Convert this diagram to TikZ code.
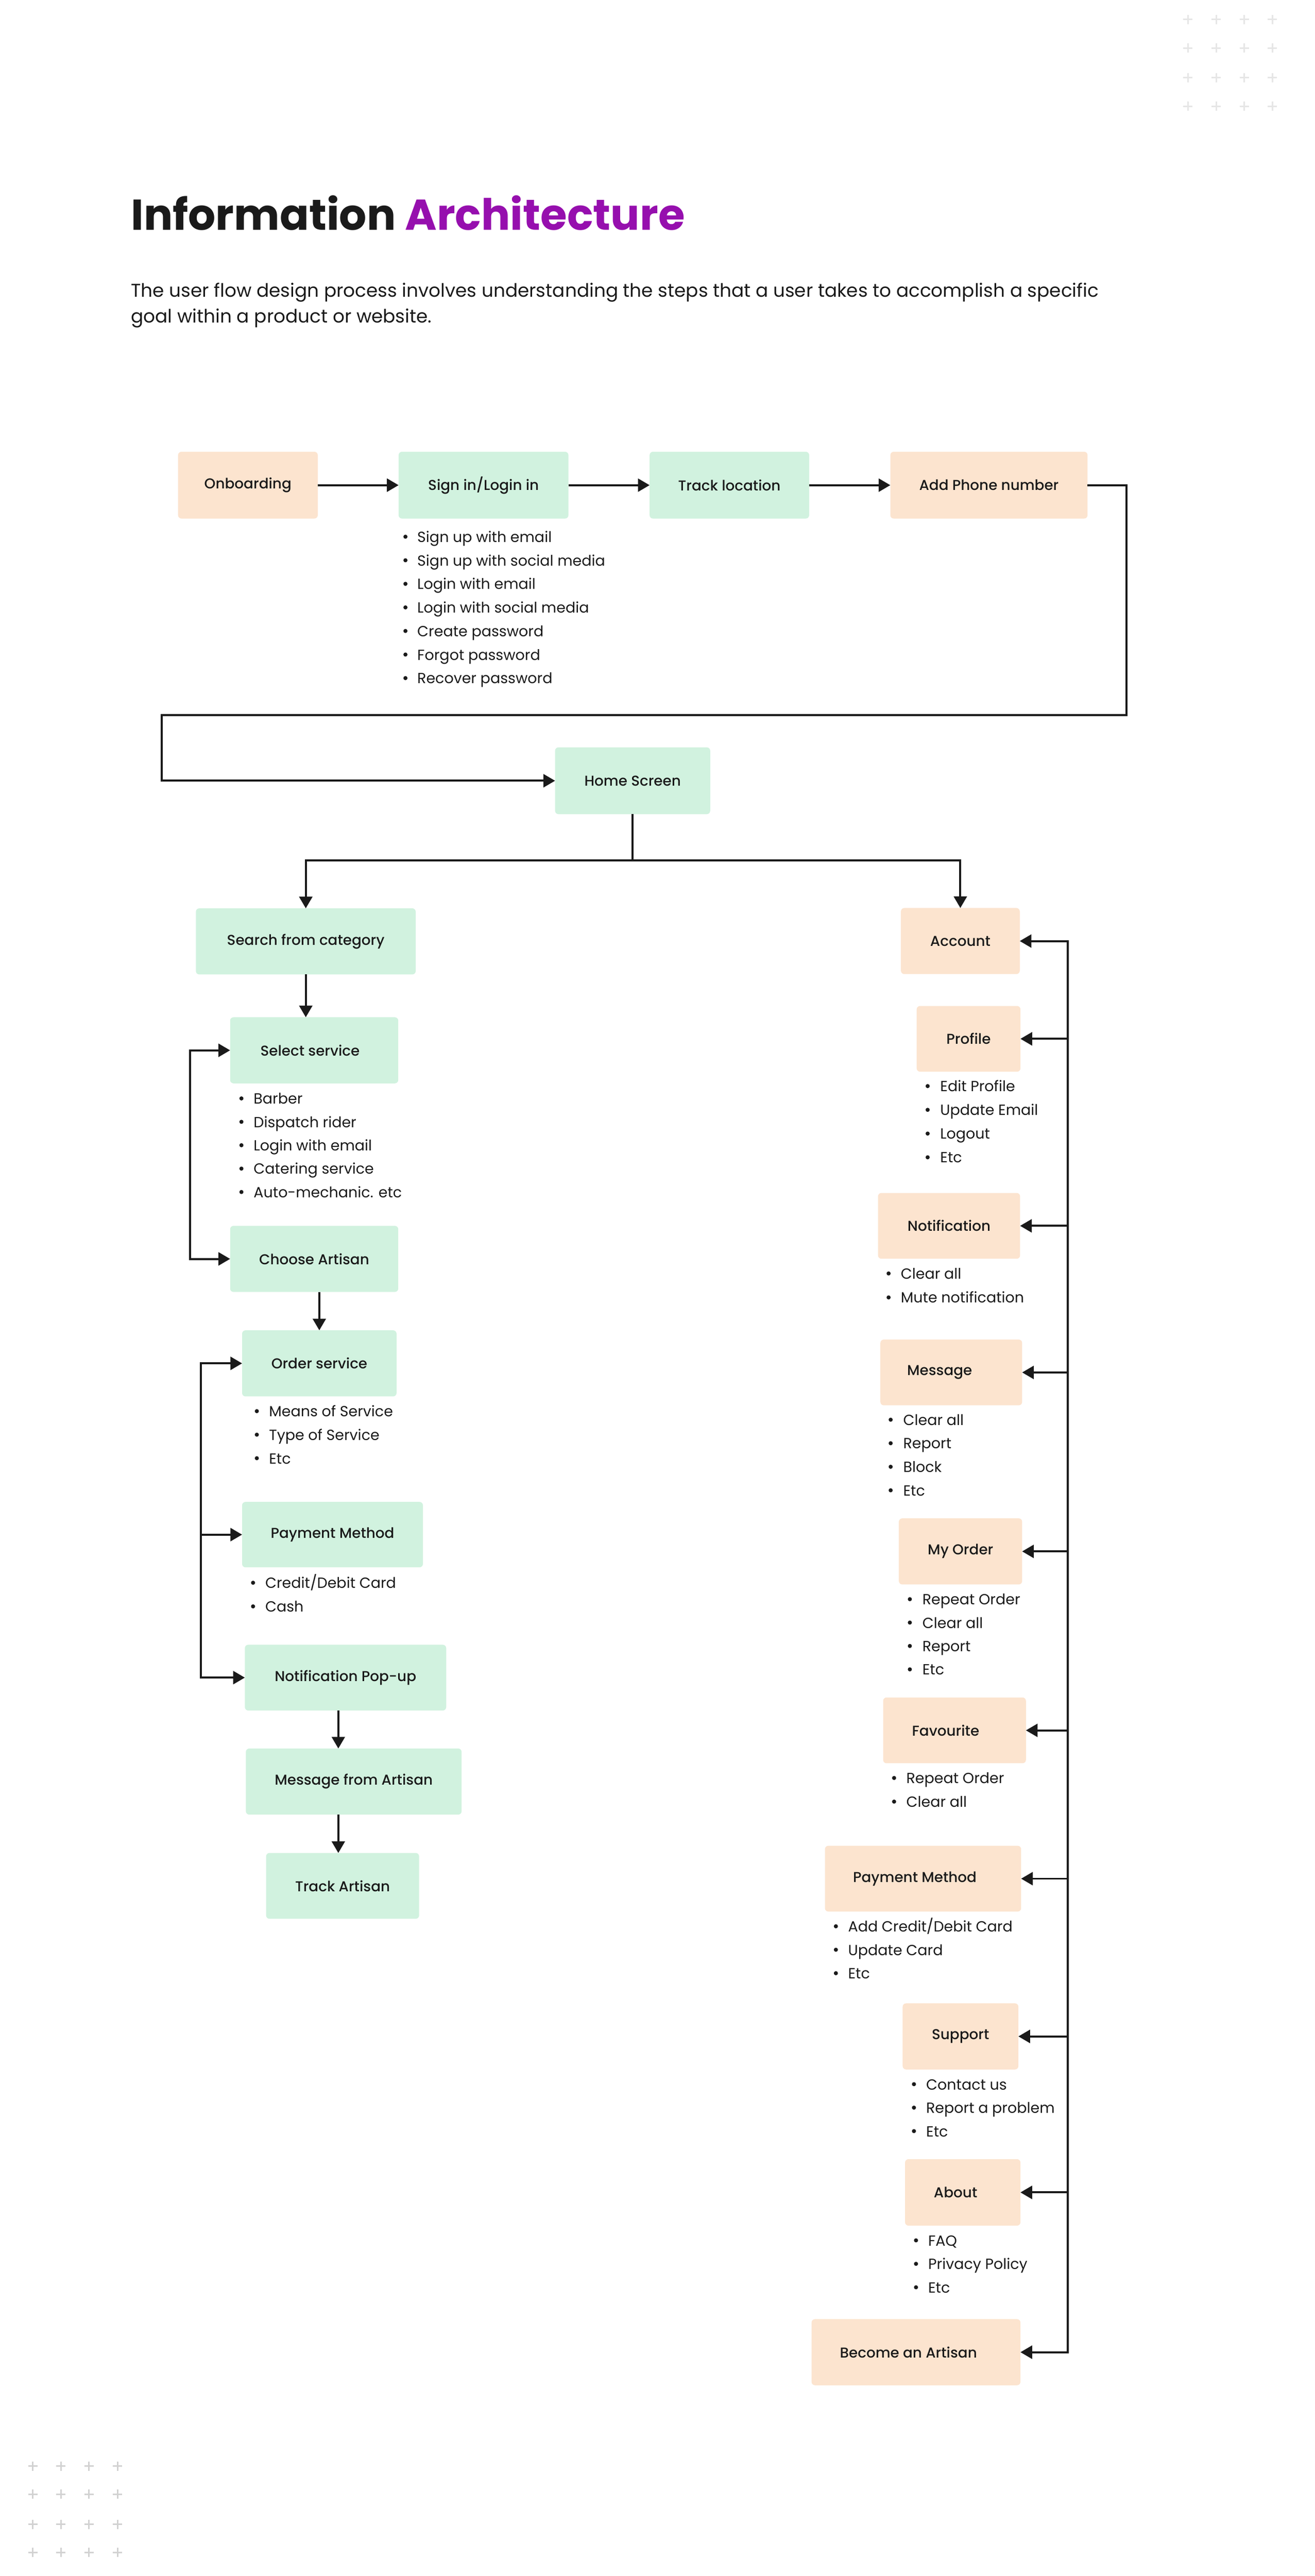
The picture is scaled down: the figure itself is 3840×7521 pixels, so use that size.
\documentclass[tikz,border=0pt]{standalone}
\usepackage{fontspec}
\setmainfont{Poppins}
\IfFontExistsTF{Poppins Medium}{\newfontfamily\medfont{Poppins Medium}}{\newfontfamily\medfont{Poppins}[FakeBold=1.5]}
\usetikzlibrary{arrows.meta}
\definecolor{grn}{HTML}{D1F2DF}
\definecolor{pch}{HTML}{FCE4CF}
\definecolor{ink}{HTML}{1A1A1A}
\definecolor{purp}{HTML}{960FAE}
\definecolor{plusA}{HTML}{E6E6E6}
\definecolor{plusB}{HTML}{D2D2D2}
\tikzset{
  boxbase/.style={rounded corners=0.1cm, inner sep=0pt, outer sep=0pt},
  gbox/.style={boxbase, fill=grn},
  pbox/.style={boxbase, fill=pch},
  lbl/.style={font=\medfont\fontsize{11.9}{14}\selectfont, text=ink, inner sep=0pt},
  itm/.style={font=\fontsize{12.2}{14}\selectfont, text=ink, inner sep=0pt, anchor=base west},
  dot/.style={circle, fill=ink, inner sep=0pt, minimum size=0.12cm},
  arr/.style={draw=ink, line width=0.06cm, -{Triangle[length=0.34cm,width=0.38cm]}},
  arrb/.style={draw=ink, line width=0.06cm, {Triangle[length=0.34cm,width=0.38cm]}-{Triangle[length=0.34cm,width=0.38cm]}},
  wire/.style={draw=ink, line width=0.06cm},
  plusa/.style={draw=plusA, line width=0.045cm},
  plusb/.style={draw=plusB, line width=0.045cm},
}
% box: name, style, x1, y1, x2, y2, text, text shift
\newcommand\bx[8]{%
  \pgfmathsetmacro\bw{(#5-#3)*0.01}%
  \pgfmathsetmacro\bh{(#6-#4)*0.01}%
  \pgfmathsetmacro\bs{#8*0.01}%
  \node[#2, minimum width=\bw cm, minimum height=\bh cm] (#1) at ({(#3+#5)/2},{(#4+#6)/2}) {};
  \node[lbl] (#1-l) at ([xshift=\bs cm]#1.center) {#7};
}
% bullet list: name, bullet x, text x, first y, spacing, items
\newcommand\blist[6]{%
  \foreach \t [count=\i] in {#6} {
    \pgfmathsetmacro\yy{#4+(\i-1)*#5}
    \node[dot] (#1d\i) at (#2,\yy) {};
    \node[itm] (#1t\i) at (#3,\yy+16) {\t};
  }%
}
\begin{document}
\begin{tikzpicture}[x=0.01cm, y=-0.01cm]
\fill[white] (0,0) rectangle (3840,7521);
\useasboundingbox (0,0) rectangle (3840,7521);

% decorative plus grids
\foreach \px in {3469,3552,3634,3716} \foreach \py in {57,140,227,310}
  {\draw[plusa] (\px-13.5,\py) -- (\px+13.5,\py) (\px,\py-13.5) -- (\px,\py+13.5);}
\foreach \px in {96,178,260,343} \foreach \py in {7200,7282,7370,7452}
  {\draw[plusb] (\px-13.5,\py) -- (\px+13.5,\py) (\px,\py-13.5) -- (\px,\py+13.5);}

% title
\node[anchor=base west, inner sep=0pt, font=\bfseries\fontsize{35.8}{43}\selectfont, text=ink] (title) at (382,672) {Information \textcolor{purp}{Architecture}};
\node[anchor=base west, inner sep=0pt, font=\fontsize{15.35}{20}\selectfont, text=ink] (sub1) at (382,867) {The user flow design process involves understanding the steps that a user takes to accomplish a specific};
\node[anchor=base west, inner sep=0pt, font=\fontsize{15.35}{20}\selectfont, text=ink] (sub2) at (382,943) {goal within a product or website.};

% boxes
\bx{onb}{pbox}{520}{1319}{928}{1514}{Onboarding}{0}
\bx{sign}{gbox}{1164}{1319}{1660}{1514}{Sign in/Login in}{0}
\bx{track}{gbox}{1897}{1319}{2363}{1514}{Track location}{0}
\bx{phone}{pbox}{2600}{1319}{3176}{1514}{Add Phone number}{0}
\bx{home}{gbox}{1621}{2182}{2074}{2377}{Home Screen}{0}
\bx{search}{gbox}{572}{2652}{1214}{2845}{Search from category}{0}
\bx{acc}{pbox}{2631}{2651}{2978}{2844}{Account}{0}
\bx{select}{gbox}{672}{2970}{1163}{3163}{Select service}{-12}
\bx{choose}{gbox}{672}{3579}{1163}{3772}{Choose Artisan}{0}
\bx{order}{gbox}{707}{3884}{1158}{4077}{Order service}{0}
\bx{payL}{gbox}{707}{4385}{1235}{4576}{Payment Method}{0}
\bx{notif}{gbox}{715}{4802}{1303}{4994}{Notification Pop-up}{0}
\bx{msgart}{gbox}{718}{5105}{1348}{5298}{Message from Artisan}{0}
\bx{trackart}{gbox}{777}{5410}{1224}{5602}{Track Artisan}{0}
\bx{prof}{pbox}{2677}{2937}{2980}{3129}{Profile}{0}
\bx{notR}{pbox}{2564}{3483}{2979}{3675}{Notification}{0}
\bx{msg}{pbox}{2571}{3911}{2985}{4103}{Message}{-34}
\bx{myord}{pbox}{2625}{4433}{2985}{4626}{My Order}{0}
\bx{fav}{pbox}{2579}{4956}{2996}{5148}{Favourite}{-26}
\bx{payR}{pbox}{2409}{5389}{2982}{5581}{Payment Method}{-24}
\bx{sup}{pbox}{2636}{5849}{2974}{6042}{Support}{0}
\bx{about}{pbox}{2643}{6304}{2980}{6498}{About}{-21}
\bx{become}{pbox}{2370}{6771}{2980}{6964}{Become an Artisan}{-22}

% bullet lists
\blist{ls}{1184}{1218}{1567}{68.8}{Sign up with email,Sign up with social media,Login with email,Login with social media,Create password,Forgot password,Recover password}
\blist{lsel}{705}{740}{3207}{68.3}{Barber,Dispatch rider,Login with email,Catering service,Auto-mechanic. etc}
\blist{lord}{750}{785}{4120}{68.7}{Means of Service,Type of Service,Etc}
\blist{lpay}{739}{774}{4621}{69}{Credit/Debit Card,Cash}
\blist{lprof}{2709}{2745}{3171}{69.3}{Edit Profile,Update Email,Logout,Etc}
\blist{lnot}{2595}{2630}{3718}{70}{Clear all,Mute notification}
\blist{lmsg}{2601}{2637}{4145}{68.7}{Clear all,Report,Block,Etc}
\blist{lmyo}{2657}{2693}{4669}{68.3}{Repeat Order,Clear all,Report,Etc}
\blist{lfav}{2611}{2646}{5191}{69}{Repeat Order,Clear all}
\blist{lpr}{2441}{2476}{5624}{68.5}{Add Credit/Debit Card,Update Card,Etc}
\blist{lsup}{2669}{2704}{6085}{68.5}{Contact us,Report a problem,Etc}
\blist{lab}{2675}{2710}{6541}{68.5}{FAQ,Privacy Policy,Etc}

% helper coordinates
\coordinate (c1) at (3290,2088);
\coordinate (c2) at (472,2088);
\coordinate (hb) at (home.south |- 0,2512);
\coordinate (lb1) at (555,0);
\coordinate (lb2) at (586,0);
\coordinate (ax) at (988,0);
\coordinate (rx) at (3118,0);

% connectors: top row
\draw[arr] (onb.east) -- (sign.west);
\draw[arr] (sign.east) -- (track.west);
\draw[arr] (track.east) -- (phone.west);
\draw[arr] (phone.east) -| (c1) -- (c2) |- (home.west);

% home branch
\draw[wire] (home.south) -- (hb);
\draw[arr] (hb) -| (search.north);
\draw[arr] (hb) -| (acc.north);

% left column
\draw[arr] (search.south) -- (search.south |- select.north);
\draw[arrb] (select.west) -- (select.west -| lb1) -- (choose.west -| lb1) -- (choose.west);
\draw[arr] (order.north |- choose.south) -- (order.north);
\draw[arrb] (order.west) -- (order.west -| lb2) -- (notif.west -| lb2) -- (notif.west);
\draw[arr] (payL.west -| lb2) -- (payL.west);
\draw[arr] (notif.south -| ax) -- (msgart.north -| ax);
\draw[arr] (msgart.south -| ax) -- (trackart.north -| ax);

% right column
\draw[arrb] (acc.east) -- (acc.east -| rx) -- (become.east -| rx) -- (become.east);
\foreach \n in {prof,notR,msg,myord,fav,payR,sup,about}
  {\draw[arr] (\n.east -| rx) -- (\n.east);}
\end{tikzpicture}
\end{document}
